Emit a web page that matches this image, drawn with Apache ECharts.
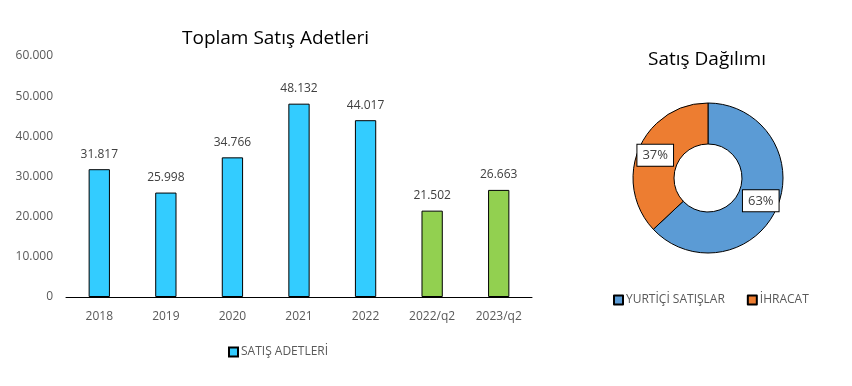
<!DOCTYPE html>
<html><head><meta charset="utf-8">
<script src="https://cdn.jsdelivr.net/npm/echarts@6/dist/echarts.min.js"></script>
<style>html,body{margin:0;padding:0;background:#fff}#c{width:852px;height:386px}</style>
</head><body><div id="c"></div>
<script>
const categories = ['2018','2019','2020','2021','2022','2022/q2','2023/q2'];
const salesValues = [31817, 25998, 34766, 48132, 44017, 21502, 26663];
const barColors = ['#33CCFF','#33CCFF','#33CCFF','#33CCFF','#33CCFF','#92D050','#92D050'];
const yTicks = [0, 10000, 20000, 30000, 40000, 50000, 60000];
const pieNames = ['YURTİÇİ SATIŞLAR', 'İHRACAT'];
const pieValues = [63, 37];
const pieColors = ['#5B9BD5', '#ED7D31'];

const fmt = v => String(v).replace(/\B(?=(\d{3})+(?!\d))/g, '.');
const FONT = 'Open Sans';

const chart = echarts.init(document.getElementById('c'), null, {renderer:'canvas'});
chart.setOption({
  animation: false,
  textStyle: {fontFamily: FONT},
  title: [
    {text: 'Toplam Satış Adetleri', left: 177, top: 24,
     textStyle: {fontFamily: FONT, fontSize: 19, fontWeight: 'normal', color: '#000'}},
    {text: 'Satış Dağılımı', left: 643, top: 45,
     textStyle: {fontFamily: FONT, fontSize: 19, fontWeight: 'normal', color: '#000'}}
  ],
  legend: [
    {data: ['SATIŞ ADETLERİ'], left: 223, top: 341, icon: 'rect', itemWidth: 9, itemHeight: 9, itemGap: 6,
     textStyle: {fontFamily: FONT, fontSize: 12, color: '#595959', padding: [0,0,0,-2]}},
    {data: pieNames, left: 608, top: 289, icon: 'rect', itemWidth: 9, itemHeight: 9, itemGap: 22,
     textStyle: {fontFamily: FONT, fontSize: 12, color: '#595959', padding: [0,0,0,-2]}}
  ],
  grid: {left: 66, right: 320, top: 56, bottom: 89, containLabel: false},
  xAxis: {
    type: 'category', data: categories,
    axisLine: {lineStyle: {color: '#000', width: 1}},
    axisTick: {show: false},
    axisLabel: {color: '#595959', fontSize: 12, fontFamily: FONT, margin: 14}
  },
  yAxis: {
    type: 'value', min: yTicks[0], max: yTicks[yTicks.length-1], interval: 10000,
    splitLine: {show: false}, axisLine: {show: false}, axisTick: {show: false},
    axisLabel: {color: '#595959', fontSize: 12, fontFamily: FONT, margin: 13, formatter: v => fmt(v)}
  },
  series: [
    {
      name: 'SATIŞ ADETLERİ', type: 'bar', barWidth: '32%',
      itemStyle: {color: '#33CCFF', borderColor: '#000', borderWidth: 1},
      data: salesValues.map((v, i) => ({value: v, itemStyle: {color: barColors[i]}})),
      label: {show: true, position: 'top', distance: 9, color: '#404040', fontSize: 12, fontFamily: FONT,
              formatter: p => fmt(p.value)}
    },
    {
      type: 'pie', center: [708, 178], radius: [34, 75], startAngle: 90, clockwise: true,
      itemStyle: {borderColor: '#000', borderWidth: 1},
      label: {show: true, position: 'inside', formatter: p => p.value + '%',
              backgroundColor: '#fff', borderColor: '#000', borderWidth: 1, padding: [4, 5, 4, 5],
              color: '#404040', fontSize: 13, fontFamily: FONT},
      labelLine: {show: false},
      emphasis: {disabled: true},
      data: pieNames.map((n, i) => ({name: n, value: pieValues[i], itemStyle: {color: pieColors[i]}}))
    }
  ]
});
</script></body></html>
